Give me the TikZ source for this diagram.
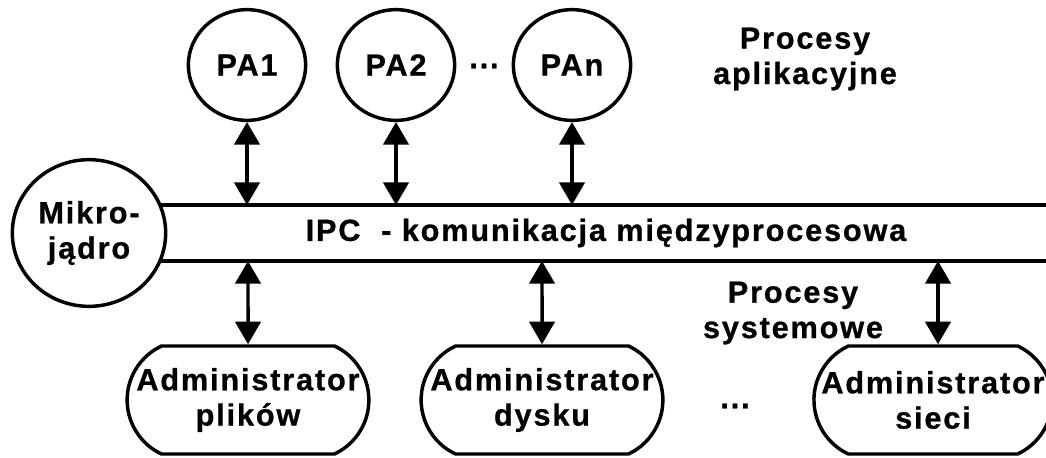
\documentclass[tikz,border=0pt]{standalone}
\usepackage{fontspec}
\setmainfont{Liberation Sans}[LetterSpace=6,BoldFeatures={FakeBold=0.8}]
\usetikzlibrary{arrows.meta,shapes.misc,shapes.geometric}
\begin{document}
\begin{tikzpicture}[x=0.75pt,y=-0.75pt,
  font=\fontsize{23}{26.5}\selectfont\bfseries,
  line width=2.6pt,
  proc/.style={draw, ellipse, inner sep=0pt, minimum width=88pt, minimum height=83pt},
  kernel/.style={draw, ellipse, inner sep=0pt, minimum width=115pt, minimum height=110pt, align=center},
  admin/.style={draw, rounded rectangle, rounded rectangle arc length=130,
                inner sep=0pt, minimum width=174pt, minimum height=81pt, align=center},
  label/.style={align=center, inner sep=0pt},
  link/.style={{Triangle[length=17pt,width=19pt]}-{Triangle[length=17pt,width=19pt]}}]
\useasboundingbox (0,0) rectangle (1046,457);

% application processes
\node[proc] (pa1) at (247,65) {PA1};
\node[proc] (pa2) at (396,65) {PA2};
\node[proc] (pan) at (572,65) {PAn};
\node[label] (dotsA) at (484,66) {...};
\node[label] (apps) at (805,59) {Procesy\\aplikacyjne};

% microkernel and the IPC band
\node[kernel] (kern) at (89,233) {Mikro-\\jądro};
\coordinate (bandTL) at (161,205);
\coordinate (bandTR) at (1046,205);
\coordinate (bandBL) at (161,261);
\coordinate (bandBR) at (1046,261);
\draw (bandTL) -- (bandTR);
\draw (bandBL) -- (bandBR);
\node[label] (ipc) at (606,233) {IPC\ \ - komunikacja międzyprocesowa};

% system processes
\node[admin] (adm1) at (248,400) {Administrator\\plików};
\node[admin] (adm2) at (542,400) {Administrator\\dysku};
\node[admin, minimum width=166pt] (adm3) at (933,400) {Administrator\\sieci};
\node[label] (dotsB) at (735,406) {...};
\node[label] (sys) at (793,313) {Procesy\\systemowe};

% connections to the band
\coordinate (t1) at (247,205);
\coordinate (t2) at (396,205);
\coordinate (t3) at (572,205);
\coordinate (b1) at (248,261);
\coordinate (b2) at (542,261);
\coordinate (b3) at (938,261);
\draw[link] (pa1) -- (t1);
\draw[link] (pa2) -- (t2);
\draw[link] (pan) -- (t3);
\draw[link] (b1) -- (adm1);
\draw[link] (b2) -- (adm2);
\draw[link] (b3) -- (b3 |- adm3.north);
\end{tikzpicture}
\end{document}
